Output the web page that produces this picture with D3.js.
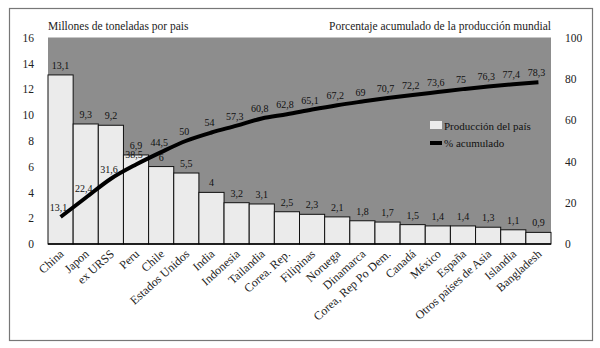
<!DOCTYPE html>
<html>
<head>
<meta charset="utf-8">
<script src="https://cdn.jsdelivr.net/npm/d3@7"></script>
<style>
  body { margin: 0; background: #fff; }
  svg { display: block; }
  svg text { font-family: "Liberation Serif", "DejaVu Serif", serif; }
</style>
</head>
<body>
<svg width="600" height="348"></svg>
<script>
const paises = ["China", "Japon", "ex URSS", "Peru", "Chile", "Estados Unidos", "India",
  "Indonesia", "Tailandia", "Corea. Rep.", "Filipinas", "Noruega", "Dinamarca",
  "Corea, Rep Po Dem.", "Canadá", "México", "España", "Otros países de Asia",
  "Islandia", "Bangladesh"];
const produccion = [13.1, 9.3, 9.2, 6.9, 6, 5.5, 4, 3.2, 3.1, 2.5, 2.3, 2.1, 1.8, 1.7,
  1.5, 1.4, 1.4, 1.3, 1.1, 0.9];
const acumulado = [13.1, 22.4, 31.6, 38.5, 44.5, 50, 54, 57.3, 60.8, 62.8, 65.1, 67.2,
  69, 70.7, 72.2, 73.6, 75, 76.3, 77.4, 78.3];
const ticksIzq = [0, 2, 4, 6, 8, 10, 12, 14, 16];
const ticksDer = [0, 20, 40, 60, 80, 100];

const izq = 48, der = 551, arriba = 37.5, abajo = 244;
const fmt = v => String(v).replace(".", ",");

const svg = d3.select("svg");

// marco exterior
svg.append("rect")
  .attr("x", 9.5).attr("y", 8.5).attr("width", 583).attr("height", 332)
  .attr("fill", "none").attr("stroke", "#777").attr("stroke-width", 1.2);

const x = d3.scaleBand().domain(paises).range([izq, der]).padding(0);
const yL = d3.scaleLinear().domain([0, 16]).range([abajo, arriba]);
const yR = d3.scaleLinear().domain([0, 100]).range([abajo, arriba]);

// fondo gris
svg.append("rect")
  .attr("x", izq).attr("y", arriba)
  .attr("width", der - izq).attr("height", abajo - arriba)
  .attr("fill", "#8d8d8d");

// títulos
svg.append("text").attr("x", izq).attr("y", 30)
  .attr("font-size", 11.5).attr("fill", "#222")
  .text("Millones de toneladas por pais");
svg.append("text").attr("x", der).attr("y", 30)
  .attr("font-size", 11.5).attr("fill", "#222").attr("text-anchor", "end")
  .text("Porcentaje acumulado de la producción mundial");

// ejes
const ejeIzq = svg.append("g").attr("transform", `translate(${izq},0)`)
  .call(d3.axisLeft(yL).tickValues(ticksIzq).tickSize(0).tickPadding(14));
const ejeDer = svg.append("g").attr("transform", `translate(${der},0)`)
  .call(d3.axisRight(yR).tickValues(ticksDer).tickSize(0).tickPadding(14));
[ejeIzq, ejeDer].forEach(g => {
  g.attr("font-family", null);
  g.select(".domain").remove();
  g.selectAll("text").attr("font-size", 11.5).attr("fill", "#222");
});

// barras
svg.append("g").selectAll("rect")
  .data(produccion)
  .join("rect")
  .attr("x", (d, i) => x(paises[i]))
  .attr("y", d => yL(d))
  .attr("width", x.bandwidth())
  .attr("height", d => abajo - yL(d))
  .attr("fill", "#ebebeb")
  .attr("stroke", "#111")
  .attr("stroke-width", 1);

// etiquetas de barras
svg.append("g").selectAll("text")
  .data(produccion)
  .join("text")
  .attr("x", (d, i) => x(paises[i]) + x.bandwidth() / 2)
  .attr("y", d => yL(d) - 6)
  .attr("text-anchor", "middle")
  .attr("font-size", 10)
  .attr("fill", "#111")
  .text(d => fmt(d));

// eje inferior
svg.append("line")
  .attr("x1", izq).attr("x2", der).attr("y1", abajo).attr("y2", abajo)
  .attr("stroke", "#000").attr("stroke-width", 1.5);

// línea acumulada
const linea = d3.line()
  .x((d, i) => x(paises[i]) + x.bandwidth() / 2)
  .y(d => yR(d))
  .curve(d3.curveMonotoneX);
svg.append("path")
  .datum(acumulado)
  .attr("d", linea)
  .attr("fill", "none")
  .attr("stroke", "#000")
  .attr("stroke-width", 4)
  .attr("stroke-linecap", "butt");

svg.append("g").selectAll("text")
  .data(acumulado)
  .join("text")
  .attr("x", (d, i) => x(paises[i]) + x.bandwidth() / 2 - 2)
  .attr("y", d => yR(d) - 6)
  .attr("text-anchor", "middle")
  .attr("font-size", 10)
  .attr("fill", "#111")
  .text(d => fmt(d));

// etiquetas del eje x
svg.append("g").selectAll("text")
  .data(paises)
  .join("text")
  .attr("transform", d => `translate(${x(d) + x.bandwidth() / 2 + 4},${abajo + 11}) rotate(-42)`)
  .attr("text-anchor", "end")
  .attr("font-size", 12)
  .attr("fill", "#222")
  .text(d => d);

// leyenda
const ley = svg.append("g").attr("transform", "translate(430,0)");
ley.append("rect").attr("x", 0).attr("y", 121).attr("width", 12).attr("height", 8).attr("fill", "#ebebeb");
ley.append("text").attr("x", 14).attr("y", 130).attr("font-size", 11).attr("fill", "#111")
  .text("Producción del país");
ley.append("line").attr("x1", 0).attr("x2", 12).attr("y1", 143).attr("y2", 143)
  .attr("stroke", "#000").attr("stroke-width", 4);
ley.append("text").attr("x", 14).attr("y", 147).attr("font-size", 11).attr("fill", "#111")
  .text("% acumulado");
</script>
</body>
</html>
